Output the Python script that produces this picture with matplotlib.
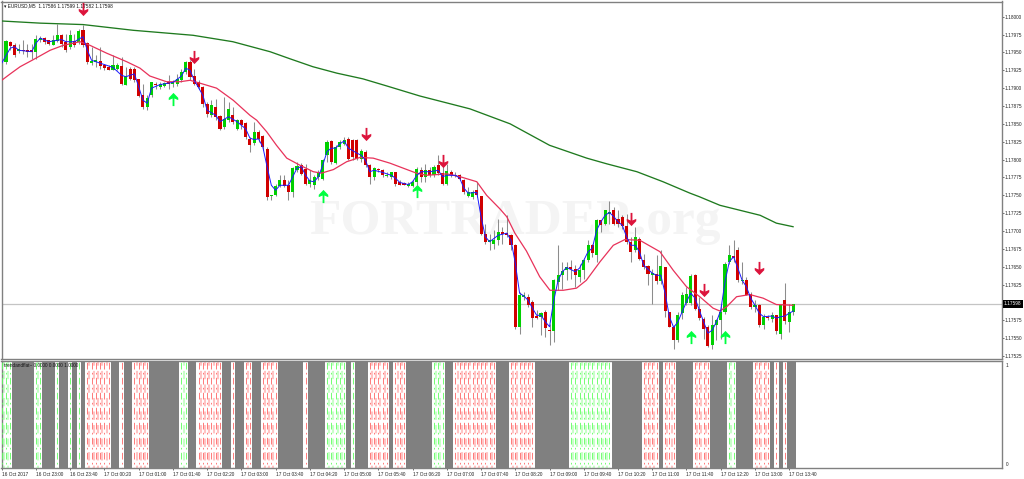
import matplotlib
matplotlib.use("Agg")
import matplotlib.pyplot as plt
import numpy as np
from matplotlib.path import Path

plt.rcParams["font.family"] = ["Liberation Sans", "DejaVu Sans"]

# prices are kept as points above 1.17000
base = 1.17
opens = [937,964,961,952,954,953,952,951,968,970,967,961,966,974,965,958,966,965,981,963,
         935,936,938,932,930,926,927,931,905,927,927,913,890,874,891,906,902,903,908,906,
         906,912,923,937,917,909,902,878,862,874,861,846,855,862,843,855,851,829,823,839,
         833,815,749,751,763,772,764,755,785,792,787,766,765,776,773,806,826,795,818,822,
         829,827,827,801,811,792,775,787,786,777,776,782,769,767,763,763,768,786,775,786,
         778,792,781,766,783,777,778,772,749,748,758,749,696,685,682,687,698,697,695,680,
         566,608,607,601,581,579,586,562,560,629,638,645,649,647,635,645,659,680,666,715,
         710,724,730,717,720,707,685,673,689,660,651,639,640,630,649,586,565,547,585,599,
         599,638,591,577,565,541,568,576,587,656,665,674,630,632,612,593,597,569,580,577,
         582,556,603,572,586]
highs = [967,966,963,962,967,962,962,974,973,972,968,974,990,976,976,981,976,983,989,965,
         958,946,958,934,932,946,935,944,930,930,930,913,906,890,909,909,909,909,918,911,
         920,927,938,939,927,911,903,881,883,885,862,888,881,874,857,857,853,832,853,841,
         834,818,751,766,778,778,771,790,797,795,794,785,778,785,801,827,827,820,827,832,
         832,829,829,815,813,794,790,788,787,783,783,783,771,769,769,771,790,790,794,790,
         793,806,797,794,785,783,780,773,762,757,769,749,710,696,701,717,706,722,696,682,
         615,615,612,603,589,587,589,570,633,680,657,657,659,652,654,661,687,682,717,716,
         730,742,734,729,722,724,692,706,692,668,652,647,666,673,650,587,568,587,615,622,
         640,640,608,580,568,582,577,598,657,680,687,678,657,635,615,603,598,584,583,587,
         583,598,627,598,598]
lows = [934,953,944,949,948,944,941,941,965,962,960,960,965,958,951,955,958,962,958,934,
        932,930,927,926,925,925,925,905,904,911,909,888,871,869,888,899,899,901,899,902,
        903,909,920,911,904,899,874,860,860,855,841,843,853,850,841,843,829,811,820,825,
        813,743,743,749,762,762,743,748,783,778,764,762,759,771,771,797,794,794,815,820,
        800,799,799,797,790,766,771,783,775,775,773,763,764,764,762,762,764,769,769,776,
        776,779,764,764,776,775,771,752,747,745,748,694,682,673,675,680,682,692,673,563,
        556,603,594,566,577,554,552,540,545,617,619,631,633,622,629,633,657,664,657,699,
        708,710,708,706,703,682,657,671,659,647,624,598,626,626,580,566,535,545,577,596,
        596,589,575,549,538,535,547,549,584,654,657,629,626,610,591,587,566,563,575,573,
        556,549,570,559,582]
closes = [966,959,946,955,952,951,951,969,970,965,962,968,974,962,953,974,960,980,960,937,
          938,939,931,928,926,933,933,906,917,913,911,889,874,886,908,904,906,907,906,909,
          913,923,937,916,906,901,878,864,876,860,843,857,871,853,855,848,831,820,839,829,
          817,748,751,763,772,763,755,788,791,780,766,771,776,781,799,825,797,818,824,827,
          801,803,801,812,792,775,788,785,778,779,782,766,765,765,766,769,787,775,786,778,
          790,781,766,784,778,779,773,755,755,755,750,696,685,687,688,698,696,695,681,565,
          610,609,597,578,578,585,564,560,631,639,644,649,647,639,645,659,680,669,716,708,
          729,726,710,710,707,685,671,691,661,650,640,640,630,651,588,566,547,582,611,612,
          637,591,578,563,539,569,576,586,654,666,662,632,632,611,594,597,569,580,578,583,
          560,597,574,586,598]

blue_idx = [-1,1,2,3,6,7,8,10,13,14,16,18,19,20,22,25,27,28,30,31,32,33,34,36,39,41,42,43,44,46,47,49,50,52,54,56,
            57,58,59,60,61,62,63,64,66,67,68,69,70,71,72,73,74,75,76,77,78,79,80,82,83,84,85,86,88,90,91,92,94,95,96,
            97,99,101,102,103,105,106,107,108,110,111,112,113,115,117,118,119,120,121,122,123,124,125,126,127,128,129,
            130,131,133,134,135,136,137,138,139,140,141,142,143,144,145,146,147,148,149,151,152,153,154,155,156,157,158,
            159,160,161,162,163,164,165,166,167,168,169,170,171,172,173,174,175,176,177,179,180,181,182,183,184]
blue_pts = [935,956,958,953,951,963,970,965,968,965,965,972,953,939,935,929,918,916,920,902,883,879,900,905,908,917,928,925,911,890,869,862,853,860,853,843,
            830,828,829,818,790,764,757,764,764,776,788,790,778,770,769,776,792,811,816,816,822,826,816,809,806,799,783,785,782,778,774,768,765,769,778,
            783,783,785,776,778,778,774,760,753,754,720,692,685,694,697,687,655,613,609,603,592,582,582,573,566,603,631,
            643,649,643,648,659,671,676,701,713,722,726,720,713,708,692,680,680,671,652,641,638,638,613,580,565,573,587,
            601,613,606,589,573,557,561,573,589,629,657,664,648,631,622,606,596,585,580,581,578,580,581,585,588]

red_idx = [-1,1,3.3,6.4,10.3,13.4,17.3,19.6,23.5,28.2,31.3,33.6,37.5,40.7,43,45.3,49.2,53.1,57,58.6,60.9,63.2,65.6,68.7,71.8,73.7,
           76.5,79.6,82.7,85.8,89.7,92.8,95.9,98.3,103,106.1,110,112.3,115.4,117,118.9,121.6,124.7,127.1,130.2,133.3,135.6,138.8,
           141.9,144.6,148.1,152.8,155.9,159,162.1,165.2,166.8,168.4,170.7,173.8,176.9,180,183.9]
red_pts = [911,920,930,940,953,960,965,960,949,937,928,917,909,909,911,907,900,883,862,855,839,820,802,792,783,781,
           786,797,803,802,795,788,781,778,780,776,769,750,731,720,697,672,636,617,617,620,631,657,
           680,688,687,671,645,622,608,592,588,594,608,611,606,597,596]

green_idx = [-1,8,18,29.7,43.7,53,61.7,66.4,71.7,77.3,83.4,89,96.7,108.4,117.8,127,135.7,140.4,147.4,153.5,159.8,162,166.8,171.5,176.2,180,183.9]
green_pts = [994,991,989,981,974,965,951,941,930,921,913,903,889,871,850,820,802,794,783,769,753,748,736,729,722,711,706]

down_idx = [18,44,84,102,146,163,176]
down_pts = [1011,944,836,798,717,617,648]
up_idx = [39,74,96,160,168]
up_pts = [885,749,756,552,552]

# trend/flat pane, one run per block of bars starting at bar -1
state_names = ["g","n","g","n","g","n","g","n","g","n","r","n","r","n","r","n","g","n","r","n","r","n","r","n","r",
               "n","r","n","g","n","g","n","r","n","r","n","g","n","r","n","r","n","g","n","r","n","r","n","r","n",
               "g","n","r","n","r","n","r","n"]
state_runs = [3,5,2,3,1,2,1,1,1,1,6,2,1,2,4,7,2,2,6,2,1,2,2,2,4,
              6,1,4,5,1,1,3,5,1,3,6,3,2,10,3,6,8,10,7,4,1,3,4,4,4,
              2,4,4,1,1,1,1,2]

price_ticks = [1.17525,1.17550,1.17575,1.17600,1.17625,1.17650,1.17675,1.17700,1.17725,1.17750,
               1.17775,1.17800,1.17825,1.17850,1.17875,1.17900,1.17925,1.17950,1.17975,1.18000]
last_price = 1.17598
time_labels = ["16 Oct 2017","16 Oct 23:00","16 Oct 23:40","17 Oct 00:20","17 Oct 01:00","17 Oct 01:40",
               "17 Oct 02:20","17 Oct 03:00","17 Oct 03:40","17 Oct 04:20","17 Oct 05:00","17 Oct 05:40",
               "17 Oct 06:20","17 Oct 07:00","17 Oct 07:40","17 Oct 08:20","17 Oct 09:00","17 Oct 09:40",
               "17 Oct 10:20","17 Oct 11:00","17 Oct 11:40","17 Oct 12:20","17 Oct 13:00","17 Oct 13:40"]

W, H = 1024, 479
frame = "#808080"
small = 3.4


def to_price(values):
    return base + np.array(values) / 1e5


def px_axes(left, top, right, bottom):
    return fig.add_axes([left / W, 1 - bottom / H, (right - left) / W, (bottom - top) / H])


fig = plt.figure(figsize=(W / 100, H / 100), dpi=100)
ax = px_axes(1.5, 1.5, 1001.5, 359)
ax2 = px_axes(1.5, 361, 1001.5, 468)

x_min, x_max = -1.05, 232.6
bar_x = np.arange(len(opens))
o, h, l, c = to_price(opens), to_price(highs), to_price(lows), to_price(closes)

# watermark, centred over bar 119
ax.text(119, 1.17713, "FORTRADER.org", fontsize=37, family="Liberation Serif", fontweight="bold",
        color="#f4f4f4", ha="center", va="center", zorder=0)

# candles
ax.vlines(bar_x, l, h, color="#8c8c8c", lw=0.75, zorder=2)
for i in bar_x:
    col = "#00d000" if c[i] >= o[i] else "#d00000"
    ax.bar(i, max(abs(c[i] - o[i]), 0.00002), bottom=min(o[i], c[i]), width=0.72,
           color=col, lw=0, zorder=3)

ax.plot(green_idx, to_price(green_pts), color="#1f7a1f", lw=0.95, zorder=4)
ax.plot(red_idx, to_price(red_pts), color="#e8325a", lw=0.9, zorder=4)
ax.plot(blue_idx, to_price(blue_pts), color="#1a1aff", lw=0.7, zorder=5)

arrow_down = Path([(-0.14, 1), (0.14, 1), (0.14, -0.15), (0.72, 0.1), (0.72, -0.25), (0, -1),
                   (-0.72, -0.25), (-0.72, 0.1), (-0.14, -0.15), (-0.14, 1)], closed=True)
arrow_up = Path([(x, -y) for x, y in arrow_down.vertices], closed=True)
ax.plot(down_idx, to_price(down_pts), ls="", marker=arrow_down, ms=9.5, color="#dc143c", mew=0, zorder=6)
ax.plot(up_idx, to_price(up_pts), ls="", marker=arrow_up, ms=9.5, color="#00ff40", mew=0, zorder=6)

ax.axhline(last_price, color="#c4c4c4", lw=0.9, zorder=1)

ax.set_xlim(x_min, x_max)
ax.set_ylim(base + 520.8 / 1e5, base + 1021.3 / 1e5)
ax.set_xticks([])
ax.yaxis.tick_right()
ax.set_yticks(price_ticks)
ax.set_yticklabels(["%.5f" % p for p in price_ticks], fontsize=small, color="#222222")
ax.tick_params(axis="y", length=1.5, width=0.5, pad=0.6, color="#333333")
ax.text(1.0025, last_price, "%.5f" % last_price, transform=ax.get_yaxis_transform(), fontsize=small,
        color="white", va="center", ha="left", zorder=8,
        bbox=dict(facecolor="black", edgecolor="black", pad=0.9, lw=0))
ax.text(3 / 1000, 0.9885, "\u25be EURUSD,M5  1.17586 1.17599 1.17582 1.17598", transform=ax.transAxes,
        fontsize=small, color="#111111", va="center", ha="left", zorder=8)

# lower pane
strong = {"g": "#5cff5c", "r": "#ff6464"}
pale = {"g": "#c8ffc8", "r": "#ffc4c4"}
start = -1
for name, run in zip(state_names, state_runs):
    if name == "n":
        ax2.bar(start - 0.5, 1.2, width=run, bottom=-0.1, align="edge", color="#808080", lw=0, zorder=2)
    else:
        for j in range(run):
            ax2.vlines(start + j, -0.1, 1.1, color=strong[name], lw=0.6,
                       linestyles=(0, (8, 4, 2, 4)), zorder=3)
            if j < run - 1:
                ax2.vlines(start + j + 0.5, -0.1, 1.1, color=pale[name], lw=1.5,
                           linestyles=(0, (4, 2.5)), zorder=2)
    start += run

ax2.set_xlim(x_min, x_max)
ax2.set_ylim(-0.04, 1.04)
ax2.yaxis.tick_right()
ax2.set_yticks([0, 1])
ax2.set_yticklabels(["0", "1"], fontsize=small, color="#222222")
ax2.tick_params(axis="y", length=0, pad=3)
ax2.set_xticks(np.arange(-1, 184, 8))
ax2.set_xticklabels(time_labels, fontsize=small, color="#222222", ha="left")
ax2.tick_params(axis="x", length=1.5, width=0.5, pad=1.2, color="#333333")
ax2.text(3 / 1000, 0.955, "trendandflat~ 0.0000 0.0000 1.0000", transform=ax2.transAxes,
         fontsize=small, color="#111111", va="center", ha="left", zorder=8)

for a in (ax, ax2):
    for s in a.spines.values():
        s.set_color(frame)
        s.set_linewidth(1.0)

fig.savefig("out.png", dpi=100, facecolor="white")
